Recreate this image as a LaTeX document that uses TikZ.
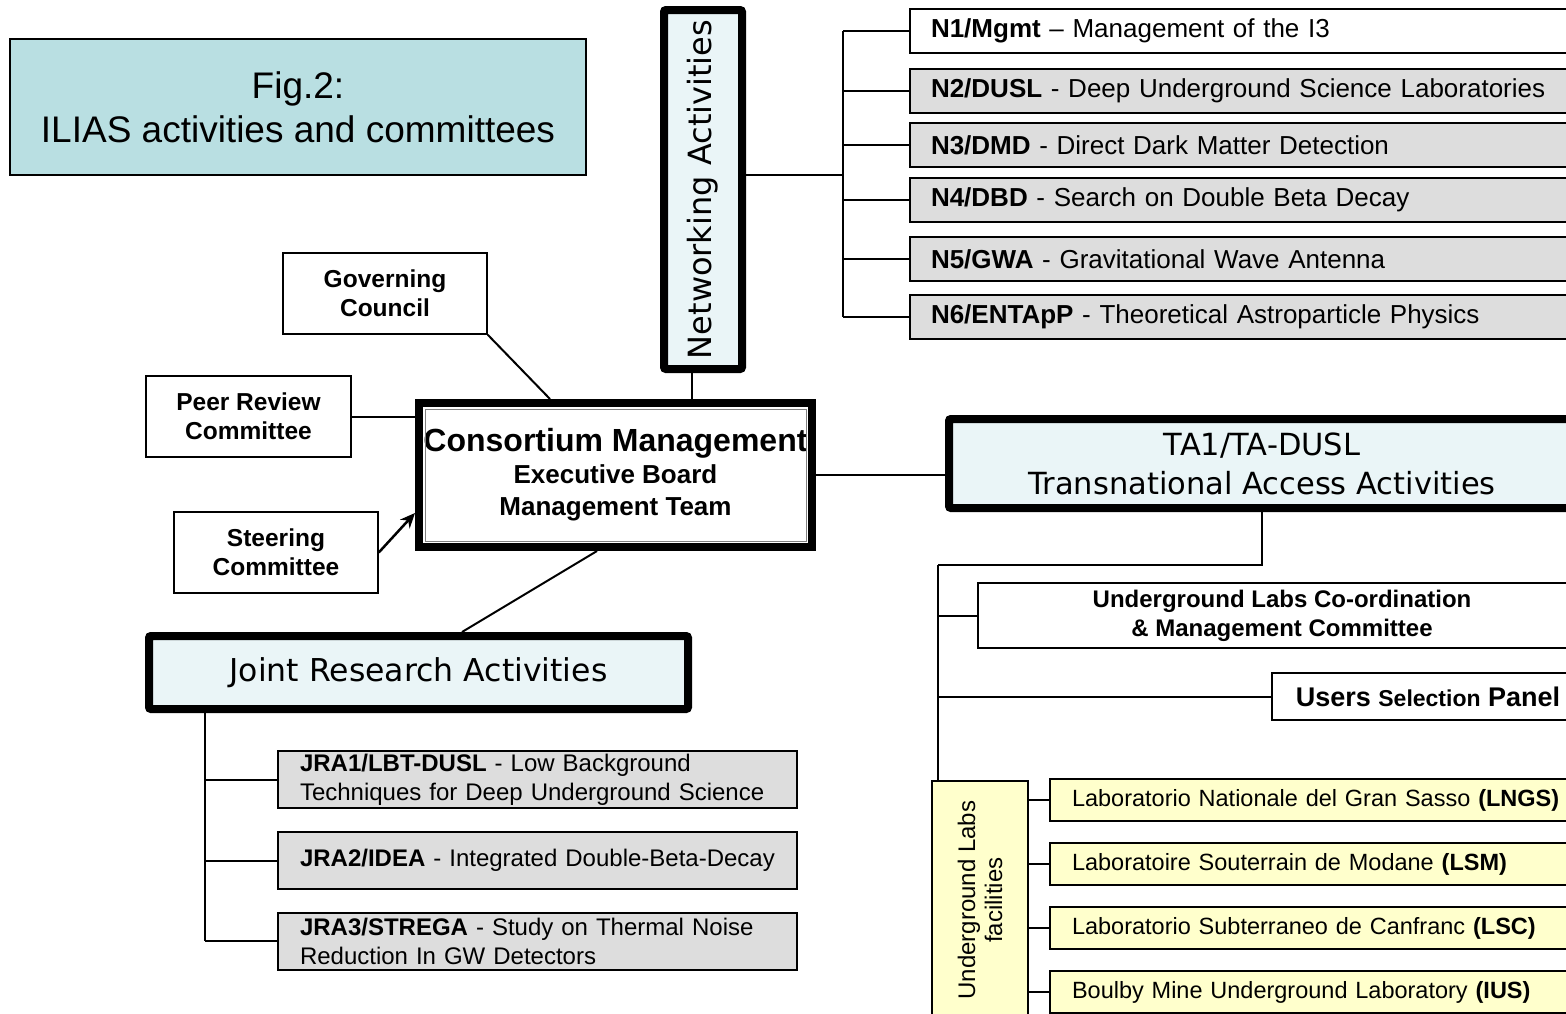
\documentclass[tikz,border=0pt]{standalone}
\usepackage{fontspec}
\setmainfont{Liberation Sans}
\newfontfamily\comicf{DejaVu Sans}
\usetikzlibrary{arrows.meta}
\definecolor{titlebg}{HTML}{B9DFE2}
\definecolor{lightbg}{HTML}{EAF5F7}
\definecolor{graybg}{HTML}{DDDDDD}
\definecolor{yellowbg}{HTML}{FFFFCC}
\begin{document}
\begin{tikzpicture}[x=1pt,y=-1pt,line width=2pt,
  titlebox/.style={draw, line width=1.5pt, fill=titlebg, inner sep=0pt, align=center,
    minimum width=576pt, minimum height=136pt, font=\fontsize{37}{44}\selectfont},
  plainbox/.style={draw, line width=1.5pt, fill=white, inner sep=0pt, align=center,
    minimum width=204pt, minimum height=81pt, font=\fontsize{24.5}{29}\selectfont\bfseries},
  heavybox/.style={draw, line width=8pt, rounded corners=2pt, fill=lightbg, inner sep=0pt,
    align=center, font=\comicf\fontsize{30.5}{39}\selectfont},
  nbox/.style={draw, line width=2pt, fill=graybg, inner xsep=21pt, inner ysep=0pt,
    minimum width=690pt, text width=648pt, minimum height=44pt, align=left,
    font=\fontsize{26}{28}\selectfont},
  jbox/.style={draw, line width=2pt, fill=graybg, inner xsep=22pt, inner ysep=0pt,
    minimum width=519pt, text width=475pt, minimum height=57pt, align=left,
    font=\fontsize{24}{29}\selectfont},
  labbox/.style={draw, line width=2pt, fill=yellowbg, inner xsep=22pt, inner ysep=0pt,
    minimum width=550pt, text width=506pt, minimum height=42pt, align=left,
    font=\fontsize{23.5}{26}\selectfont},
  link/.style={draw, line width=2pt}
]
\useasboundingbox (0,0) rectangle (1566,1013);
\clip (0,0) rectangle (1566,1013);

% title
\node[titlebox] (title) at (298,107) {Fig.2:\\ILIAS activities and committees};

% networking
\node[heavybox, rotate=90, minimum width=359pt, minimum height=78pt, font=\comicf\fontsize{32}{36}\selectfont] (net) at (703,189.5) {Networking Activities};

\node[nbox, fill=white] (n1) at (1255,31) {\textbf{N1/Mgmt} -- Management of the I3};
\node[nbox] (n2) at (1255,91) {\textbf{N2/DUSL} - Deep Underground Science Laboratories};
\node[nbox] (n3) at (1255,145) {\textbf{N3/DMD} - Direct Dark Matter Detection};
\node[nbox] (n4) at (1255,200) {\textbf{N4/DBD} - Search on Double Beta Decay};
\node[nbox] (n5) at (1255,259) {\textbf{N5/GWA} - Gravitational Wave Antenna};
\node[nbox] (n6) at (1255,317) {\textbf{N6/ENTApP} - Theoretical Astroparticle Physics};

\coordinate (nb) at (843,175);
\draw[link] (net.south |- nb) -- (nb);
\draw[link] (nb |- n1) -- (nb |- n6);
\foreach \n in {n1,n2,n3,n4,n5,n6} { \draw[link] (nb |- \n.west) -- (\n.west); }

% committees
\node[plainbox] (gov) at (385,293.5) {Governing\\Council};
\node[plainbox, minimum width=205pt] (peer) at (248.5,416.5) {Peer Review\\Committee};
\node[plainbox] (steer) at (276,552.5) {Steering\\Committee};

% consortium management
\node[draw, line width=8pt, fill=white, inner sep=0pt, align=center, minimum width=393pt,
  minimum height=144pt, font=\fontsize{26}{32}\selectfont\bfseries] (cm) at (615.5,475)
  {{\fontsize{32}{35}\selectfont Consortium Management}\\Executive Board\\Management Team};
\draw[line width=2pt] ([shift={(7,7)}]cm.north west) rectangle ([shift={(-7,-7)}]cm.south east);
\draw[line width=1pt, gray] ([shift={(10,10)}]cm.north west) rectangle ([shift={(-10,-10)}]cm.south east);

\draw[link] ([xshift=-11pt]net.west) -- ([xshift=-11pt]net.west |- cm.north);
\draw[link] (gov.south east) -- ([xshift=-65.5pt]cm.north);
\draw[link] (peer.east) -- (peer.east -| cm.west);
\draw[line width=2.5pt, -{Stealth[length=15pt,width=13pt]}] (steer.east) -- ([yshift=-38pt]cm.west);

% joint research
\node[heavybox, minimum width=539pt, minimum height=73pt, font=\comicf\fontsize{31.5}{36}\selectfont] (jra) at (418.5,672.5) {Joint Research Activities};
\draw[link] ([xshift=-18.5pt]cm.south) -- ([xshift=43.5pt]jra.north);

\node[jbox] (j1) at (537.5,779.5) {\mbox{\textbf{JRA1/LBT-DUSL} - Low Background}\\\mbox{Techniques for Deep Underground Science}};
\node[jbox] (j2) at (537.5,860.5) {\mbox{\textbf{JRA2/IDEA} - Integrated Double-Beta-Decay}};
\node[jbox] (j3) at (537.5,941) {\mbox{\textbf{JRA3/STREGA} - Study on Thermal Noise}\\\mbox{Reduction In GW Detectors}};

\coordinate (jb) at (205,709);
\draw[link] (jb) -- (jb |- j3.west);
\foreach \n in {j1,j2,j3} { \draw[link] (jb |- \n.west) -- (\n.west); }

% transnational access
\node[heavybox, minimum width=626pt, minimum height=89pt] (ta) at (1262,463.5) {TA1/TA-DUSL\\Transnational Access Activities};
\draw[link] (cm.east) -- (cm.east -| ta.west);

\node[plainbox, minimum width=608pt, minimum height=65pt, font=\fontsize{24}{29}\selectfont\bfseries] (ulc) at (1282,615.5) {Underground Labs Co-ordination\\\& Management Committee};
\node[plainbox, minimum width=312pt, minimum height=47pt, font=\fontsize{27}{30}\selectfont\bfseries] (usp) at (1428,696.5) {Users {\fontsize{23}{26}\selectfont Selection} Panel};

\node[draw, line width=2pt, fill=yellowbg, rotate=90, inner sep=0pt, align=center,
  minimum width=238pt, minimum height=96pt, font=\fontsize{24}{27}\selectfont] (ulf) at (980,900) {Underground Labs\\facilities};

\coordinate (tb) at (938,565);
\coordinate (tbend) at (938,781);
\draw[link] (ta.south) -- (ta.south |- tb) -- (tb);
\draw[link] (tb) -- (tbend);
\draw[link] (tb |- ulc.west) -- (ulc.west);
\draw[link] (tb |- usp.west) -- (usp.west);

\node[labbox] (l1) at (1325,800) {Laboratorio Nationale del Gran Sasso \textbf{(LNGS)}};
\node[labbox] (l2) at (1325,864) {Laboratoire Souterrain de Modane \textbf{(LSM)}};
\node[labbox] (l3) at (1325,928) {Laboratorio Subterraneo de Canfranc \textbf{(LSC)}};
\node[labbox] (l4) at (1325,992) {Boulby Mine Underground Laboratory \textbf{(IUS)}};
\foreach \n in {l1,l2,l3,l4} { \draw[link] (ulf.south |- \n.west) -- (\n.west); }
\end{tikzpicture}
\end{document}
